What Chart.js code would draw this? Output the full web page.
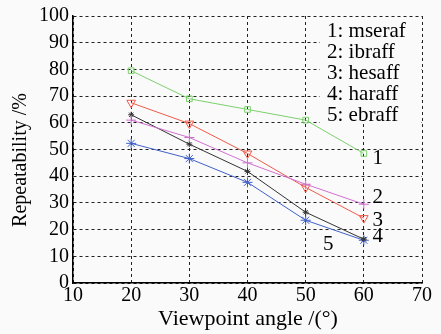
<!DOCTYPE html>
<html>
<head>
<meta charset="utf-8">
<script src="https://cdn.jsdelivr.net/npm/chart.js@4/dist/chart.umd.min.js"></script>
<style>
  html, body { margin: 0; padding: 0; background: #fafafa; }
  #wrap { width: 441px; height: 334px; }
</style>
</head>
<body>
<div id="wrap"><canvas id="chart" width="441" height="334"></canvas></div>
<script>
const angles = [20, 30, 40, 50, 60];
const mseraf = [79.5, 69, 65, 61, 48.5];
const ibraff = [61, 54.5, 45, 37, 29.5];
const hesaff = [67.5, 59.7, 48.5, 35.8, 24.3];
const haraff = [63, 52, 41.8, 26.5, 16.4];
const ebraff = [52.3, 46.6, 37.7, 23.5, 16];
const legendLines = ['1: mseraf', '2: ibraff', '3: hesaff', '4: haraff', '5: ebraff'];
const endLabels = ['1', '2', '3', '4', '5'];
const endLabelPos = [[61.5, 46.5], [61.5, 32], [61.5, 23.5], [61.5, 17.5], [53, 14.5]];
const xTitle = 'Viewpoint angle /(°)';
const yTitle = 'Repeatability /%';

const serif = '"Liberation Serif", "DejaVu Serif", serif';

function toPoints(values) {
    return angles.map((a, i) => ({ x: a, y: values[i] }));
}

// blank box behind the text legend, drawn over the grid but under the lines
const legendBox = {
    id: 'legendBox',
    beforeDatasetsDraw(chart) {
        const ctx = chart.ctx;
        ctx.save();
        ctx.fillStyle = '#fafafa';
        ctx.fillRect(320, 17, 100, 107);
        ctx.restore();
    }
};

const textPlugin = {
    id: 'textPlugin',
    afterDraw(chart) {
        const ctx = chart.ctx;
        const xs = chart.scales.x;
        const ys = chart.scales.y;
        ctx.save();
        ctx.fillStyle = '#000';
        ctx.textBaseline = 'middle';
        ctx.textAlign = 'left';
        ctx.font = '21px ' + serif;
        legendLines.forEach((t, i) => {
            ctx.fillText(t, 327, 31 + i * 21);
        });
        endLabels.forEach((t, i) => {
            ctx.fillText(t, xs.getPixelForValue(endLabelPos[i][0]), ys.getPixelForValue(endLabelPos[i][1]));
        });
        // axis titles
        ctx.textAlign = 'center';
        ctx.font = '22px ' + serif;
        ctx.fillText(xTitle, 248, 319);
        ctx.translate(21, 160);
        ctx.rotate(-Math.PI / 2);
        ctx.font = '20px ' + serif;
        ctx.fillText(yTitle, 0, 0);
        ctx.restore();
    }
};

new Chart(document.getElementById('chart').getContext('2d'), {
    type: 'line',
    data: {
        datasets: [
            { label: 'mseraf', data: toPoints(mseraf), borderColor: '#7cd06c', pointStyle: 'rect', pointRadius: 4 },
            { label: 'ibraff', data: toPoints(ibraff), borderColor: '#d070d0', pointStyle: 'cross', pointRadius: 5 },
            { label: 'hesaff', data: toPoints(hesaff), borderColor: '#f05a48', pointStyle: 'triangle', rotation: 180, pointRadius: 5 },
            { label: 'haraff', data: toPoints(haraff), borderColor: '#333333', pointStyle: 'star', pointRadius: 3 },
            { label: 'ebraff', data: toPoints(ebraff), borderColor: '#4060c8', pointStyle: 'star', pointRadius: 5 }
        ].map(d => Object.assign({
            backgroundColor: 'rgba(0,0,0,0)',
            pointBackgroundColor: 'rgba(0,0,0,0)',
            pointBorderColor: d.borderColor,
            borderWidth: 1,
            pointBorderWidth: 1,
            tension: 0,
            fill: false
        }, d))
    },
    options: {
        responsive: false,
        animation: false,
        layout: { padding: { top: 15, right: 19, left: 0, bottom: 0 } },
        plugins: { legend: { display: false }, tooltip: { enabled: false } },
        scales: {
            x: {
                type: 'linear',
                min: 10,
                max: 70,
                ticks: { stepSize: 10, autoSkip: false, color: '#000', font: { family: serif, size: 20 }, padding: 1 },
                grid: { color: '#222', drawTicks: false },
                border: { display: true, color: '#000', width: 1.5, dash: [3, 3] },
                afterFit(scale) { scale.height = 51; }
            },
            y: {
                min: 0,
                max: 100,
                ticks: { stepSize: 10, autoSkip: false, color: '#000', font: { family: serif, size: 20 }, padding: 4 },
                grid: { color: '#222', drawTicks: false },
                border: { display: true, color: '#000', width: 1.5, dash: [3, 3] },
                afterFit(scale) { scale.width = 73; }
            }
        }
    },
    plugins: [legendBox, textPlugin]
});
</script>
</body>
</html>
